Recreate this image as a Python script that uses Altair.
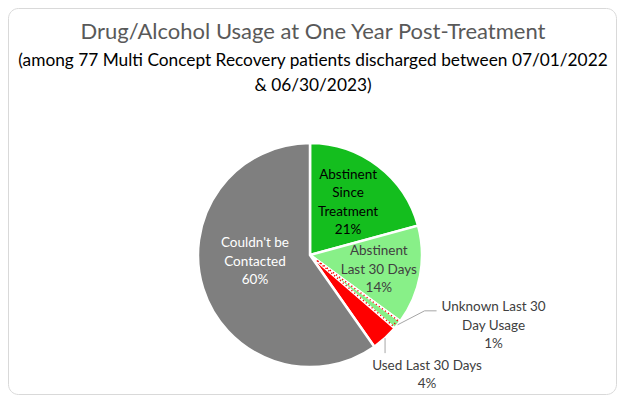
import math
import altair as alt
import pandas as pd

# ---- data ----
title_text = "Drug/Alcohol Usage at One Year Post-Treatment"
subtitle_lines = [
    "(among 77 Multi Concept Recovery patients discharged between 07/01/2022",
    "& 06/30/2023)",
]
categories = [
    "Abstinent Since Treatment",
    "Abstinent Last 30 Days",
    "Unknown Last 30 Day Usage",
    "Used Last 30 Days",
    "Couldn't be Contacted",
]
label_names = [
    "Abstinent\nSince\nTreatment",
    "Abstinent\nLast 30 Days",
    "Unknown Last 30\nDay Usage",
    "Used Last 30 Days",
    "Couldn't be\nContacted",
]
counts = [16, 11, 1, 3, 46]
slice_colors = ["#14BE1E", "#88F088", "#88F088", "#FF0000", "#7F7F7F"]

total = sum(counts)
pcts = [round(c / total * 100) for c in counts]
df = pd.DataFrame({
    "category": categories,
    "count": counts,
    "order": list(range(len(counts))),
    "label": [f"{n}\n{p}%" for n, p in zip(label_names, pcts)],
})

FONT = "Lato"
W, H = 609, 387
CX, CY, R = 302, 247, 112
LH = 18.5

theta_scale = alt.Scale(domain=[0, total], range=[0, 2 * math.pi])

base = (
    alt.Chart(df)
    .transform_window(end="sum(count)", sort=[alt.SortField("order")], frame=[None, 0])
    .transform_calculate(start="datum.end - datum.count", mid="datum.end - datum.count / 2")
    .transform_calculate(ang=f"2 * PI * datum.mid / {total}")
    .transform_calculate(px=f"{CX} + {R} * sin(datum.ang)", py=f"{CY} - {R} * cos(datum.ang)")
)

border = alt.Chart(pd.DataFrame({"k": [0]})).mark_rect(
    cornerRadius=10, fill="white", stroke="#D9D9D9", strokeWidth=1
).encode(
    x=alt.value(0.5), x2=alt.value(W - 0.5), y=alt.value(0.5), y2=alt.value(H - 0.5)
)

titles = pd.DataFrame({"t": [title_text], "s": ["\n".join(subtitle_lines)]})
title_mark = alt.Chart(titles).mark_text(
    font=FONT, fontSize=22, color="#595959", align="center", baseline="middle"
).encode(text="t:N", x=alt.value(305), y=alt.value(24))
subtitle_mark = alt.Chart(titles).mark_text(
    font=FONT, fontSize=17.3, color="#000000", align="center", baseline="middle",
    lineBreak="\n", lineHeight=25,
).encode(text="s:N", x=alt.value(305), y=alt.value(53))

arcs = base.mark_arc(outerRadius=R, stroke="white", strokeWidth=2.5).encode(
    theta=alt.Theta("start:Q", scale=theta_scale, stack=False),
    theta2="end:Q",
    color=alt.Color("category:N", scale=alt.Scale(domain=categories, range=slice_colors), legend=None),
    x=alt.value(CX),
    y=alt.value(CY),
)

dots = base.transform_filter(alt.datum.category == categories[2]).mark_arc(
    outerRadius=R - 3, innerRadius=8, padAngle=0.014, fillOpacity=0,
    stroke="#FF0000", strokeWidth=1.4, strokeDash=[1.2, 2.6]
).encode(
    theta=alt.Theta("start:Q", scale=theta_scale, stack=False),
    theta2="end:Q",
    x=alt.value(CX),
    y=alt.value(CY),
)


def label(cat, color, radius, nlines, dx=0, dy=0):
    return base.transform_filter(alt.datum.category == cat).mark_text(
        radius=radius, dx=dx, dy=dy - (nlines - 1) * LH / 2, lineBreak="\n", font=FONT,
        fontSize=13.5, lineHeight=LH, color=color, align="center", baseline="middle",
    ).encode(
        theta=alt.Theta("mid:Q", scale=theta_scale, stack=False),
        text="label:N",
        x=alt.value(CX),
        y=alt.value(CY),
    )


t1 = label(categories[0], "#000000", 66, 4, -2, 0)
t2 = label(categories[1], "#404040", 71, 3, -1, 2)
t3 = label(categories[4], "#FFFFFF", 55, 3, -2.6, -9.6)
t4 = label(categories[2], "#404040", R, 3, 96, 1)
t5 = label(categories[3], "#404040", R, 2, 42, 37)

LEAD = "#A6A6A6"
lead_a = base.transform_filter(alt.datum.category == categories[2]).transform_calculate(
    px2="datum.px + 27", py2="datum.py - 14"
).mark_rule(color=LEAD, strokeWidth=1).encode(
    x=alt.X("px:Q", scale=None, axis=None), y=alt.Y("py:Q", scale=None, axis=None),
    x2="px2:Q", y2="py2:Q",
)
lead_b = base.transform_filter(alt.datum.category == categories[2]).transform_calculate(
    qx="datum.px + 27", qy="datum.py - 14", qx2="datum.px + 39"
).mark_rule(color=LEAD, strokeWidth=1).encode(
    x=alt.X("qx:Q", scale=None, axis=None), y=alt.Y("qy:Q", scale=None, axis=None),
    x2="qx2:Q", y2="qy:Q",
)
lead_c = base.transform_filter(alt.datum.category == categories[3]).transform_calculate(
    py2="datum.py + 15"
).mark_rule(color=LEAD, strokeWidth=1).encode(
    x=alt.X("px:Q", scale=None, axis=None), y=alt.Y("py:Q", scale=None, axis=None),
    x2="px:Q", y2="py2:Q",
)

chart = alt.layer(
    border, title_mark, subtitle_mark, arcs, dots, lead_a, lead_b, lead_c, t1, t2, t3, t4, t5
).properties(
    width=W,
    height=H,
    padding=0,
    autosize=alt.AutoSizeParams(type="none"),
).configure_view(stroke=None)

chart.save("out.html", embed_options={"renderer": "svg", "actions": False})
